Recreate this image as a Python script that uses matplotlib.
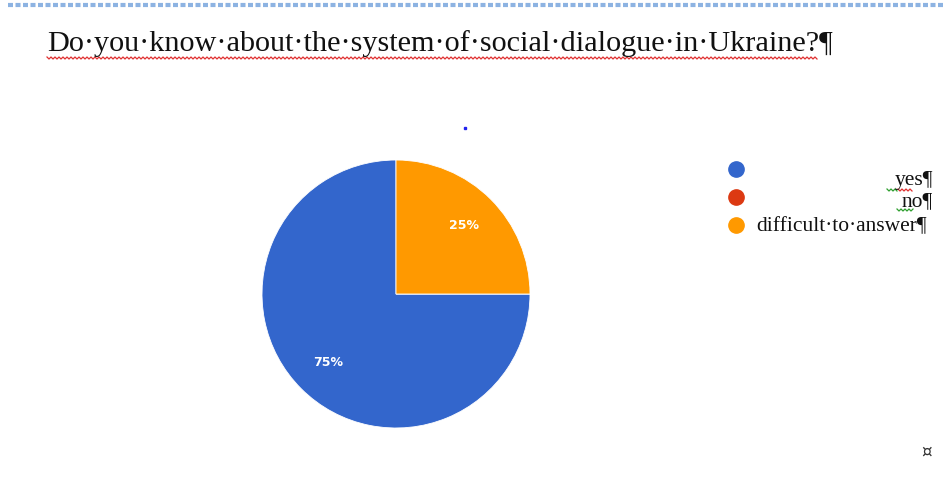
import numpy as np
import matplotlib.pyplot as plt
from matplotlib.lines import Line2D

# data
categories = ['yes', 'no', 'difficult to answer']
values = [75, 0, 25]
colors = ['#3366CC', '#DC3912', '#FF9900']
title = 'Do\u00b7you\u00b7know\u00b7about\u00b7the\u00b7system\u00b7of\u00b7social\u00b7dialogue\u00b7in\u00b7Ukraine?\u00b6'

W, H = 945, 495
fig = plt.figure(figsize=(W / 100, H / 100), dpi=100)
fig.patch.set_facecolor('white')


def fx(px):
    return px / W


def fy(py):
    return 1 - py / H


# dashed blue line at top (page border from the document)
fig.add_artist(Line2D([fx(8), fx(945)], [fy(5), fy(5)], color='#8DB3E2',
                      lw=3, ls=(0, (1.2, 0.6)), solid_capstyle='butt'))

# title
t = fig.text(fx(47), fy(51), title, fontsize=21.8, family='Liberation Serif',
             color='#111111', ha='left', va='baseline')

# pie
cx, cy, r = 396, 294, 134
ax = fig.add_axes([fx(cx - r), fy(cy + r), 2 * r / W, 2 * r / H])
wedges, _, autotexts = ax.pie(values, colors=colors, startangle=90, counterclock=True,
                              autopct=lambda p: f'{p:.0f}%' if p > 0 else '',
                              pctdistance=0.72, radius=1,
                              wedgeprops=dict(linewidth=0.6, edgecolor='white'),
                              textprops=dict(color='white', fontsize=9, fontweight='bold',
                                             family='DejaVu Sans'))
ax.set_xlim(-1, 1)
ax.set_ylim(-1, 1)
ax.set_aspect('equal')

# legend (manual, as in the document)
leg_y = [169, 197, 225]
for c, y in zip(colors, leg_y):
    fig.add_artist(Line2D([fx(736)], [fy(y)], marker='o', markersize=11,
                          color=c, markeredgecolor=c, lw=0))
fig.text(fx(933), fy(185), 'yes\u00b6', fontsize=15.5, family='Liberation Serif',
         ha='right', va='baseline', color='#111111')
fig.text(fx(933), fy(206), 'no\u00b6', fontsize=15.5, family='Liberation Serif',
         ha='right', va='baseline', color='#111111')
fig.text(fx(756), fy(231), 'difficult\u00b7to\u00b7answer\u00b6', fontsize=15.5,
         family='Liberation Serif', ha='left', va='baseline', color='#111111')

# small blue dot and cell end marker
fig.add_artist(Line2D([fx(465)], [fy(128)], marker='s', markersize=2,
                      color='#2222ee', lw=0))
fig.text(fx(927), fy(452), '\u00a4', fontsize=12, family='DejaVu Sans',
         ha='center', va='center', color='#333333')


# wavy spell-check underline
def wavy(x0, x1, y, color):
    xs = np.arange(x0, x1 + 1, 2.0)
    ys = y + np.where(np.arange(len(xs)) % 2 == 0, 0, 2.0)
    fig.add_artist(Line2D(fx(xs), fy(ys), color=color, lw=0.9))


wavy(47, 818, 57, '#E03030')
wavy(887, 897, 189, '#2E9E2E')
wavy(898, 913, 189, '#E03030')
wavy(897, 913, 209, '#2E9E2E')

fig.savefig('out.png', dpi=100)
